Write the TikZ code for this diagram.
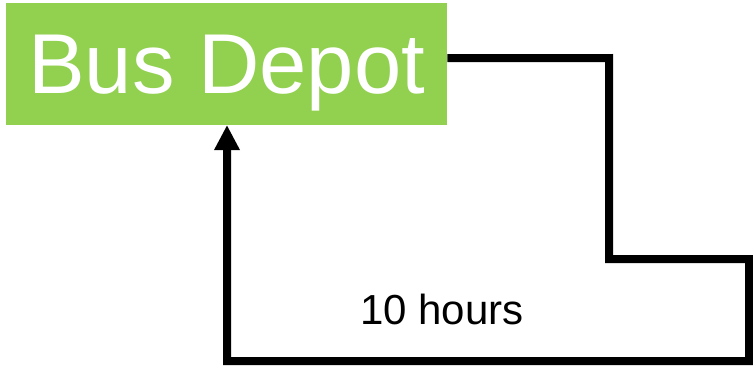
\documentclass[tikz,border=0pt]{standalone}
\usepackage{fontspec}
\setmainfont{Liberation Sans}
\usetikzlibrary{arrows.meta}
\definecolor{depotgreen}{HTML}{92D050}
\tikzset{
  depot/.style={rectangle, fill=depotgreen, text=white, inner sep=0pt,
    minimum width=441pt, minimum height=122pt, anchor=north west,
    text depth=0pt, font=\fontsize{85}{85}\selectfont},
  route/.style={line width=8pt, line join=miter, -{Triangle[width=24pt,length=25pt]}},
  lbl/.style={font=\fontsize{42}{42}\selectfont, inner sep=0pt}
}
\begin{document}
\begin{tikzpicture}[x=1pt,y=-1pt]
  \useasboundingbox (0,0) rectangle (753,365);
  \node[depot] (depot) at (6,3) {Bus Depot};
  \coordinate (c1) at (609,58);
  \coordinate (c2) at (609,259);
  \coordinate (c3) at (749,259);
  \coordinate (c4) at (749,361);
  \coordinate (c5) at (227,361);
  \coordinate (back) at (227,125);
  \draw[route] ([yshift=6pt]depot.east) -- (c1) -- (c2) -- (c3) -- (c4) -- (c5) -- (back);
  \node[lbl] (time) at (442,309) {10 hours};
\end{tikzpicture}
\end{document}
